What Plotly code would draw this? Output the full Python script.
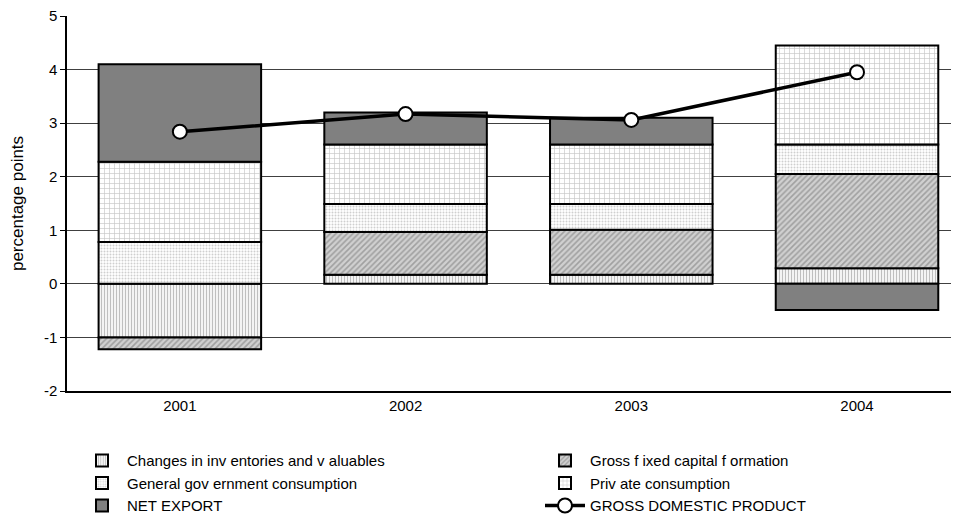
import plotly.graph_objects as go

years = ["2001", "2002", "2003", "2004"]
inventories = [-1.00, 0.17, 0.17, 0.29]
gfcf = [-0.22, 0.80, 0.84, 1.76]
gov = [0.78, 0.52, 0.48, 0.55]
private = [1.50, 1.11, 1.11, 1.85]
net_export = [1.82, 0.60, 0.50, -0.49]
gdp = [2.84, 3.17, 3.06, 3.95]
y_ticks = [-2, -1, 0, 1, 2, 3, 4, 5]
y_tick_labels = ["-2", "-1", "0", "1", "2", "3", "4", "5"]

names = ["Changes in inv entories and v aluables", "Gross f ixed capital f ormation",
         "General gov ernment consumption", "Priv ate consumption", "NET EXPORT",
         "GROSS DOMESTIC PRODUCT"]

FONT = "Liberation Sans, Arial, sans-serif"

fig = go.Figure()
line = dict(color="black", width=2)
fig.add_trace(go.Bar(x=years, y=inventories, name=names[0], legend="legend",
    marker=dict(color="white", line=line,
                pattern=dict(shape="|", fgcolor="#808080", bgcolor="white", size=3, solidity=0.45))))
fig.add_trace(go.Bar(x=years, y=gfcf, name=names[1], legend="legend2",
    marker=dict(color="#c8c8c8", line=line,
                pattern=dict(shape="/", fgcolor="#707070", bgcolor="#d0d0d0", size=4, solidity=0.4))))
fig.add_trace(go.Bar(x=years, y=gov, name=names[2], legend="legend",
    marker=dict(color="white", line=line,
                pattern=dict(shape=".", fgcolor="#a0a0a0", bgcolor="white", size=3, solidity=0.35))))
fig.add_trace(go.Bar(x=years, y=private, name=names[3], legend="legend2",
    marker=dict(color="white", line=line,
                pattern=dict(shape="+", fgcolor="#909090", bgcolor="white", size=5, solidity=0.25))))
fig.add_trace(go.Bar(x=years, y=net_export, name=names[4], legend="legend",
    marker=dict(color="#808080", line=line)))
fig.add_trace(go.Scatter(x=years, y=gdp, name=names[5], mode="lines+markers", legend="legend2",
    line=dict(color="black", width=3.5),
    marker=dict(symbol="circle", size=14, color="white", line=dict(color="black", width=2))))

leg_common = dict(orientation="v", yanchor="top", xanchor="left", traceorder="normal",
                  font=dict(family=FONT, size=15, color="black"), itemwidth=40,
                  tracegroupgap=0, bgcolor="rgba(0,0,0,0)")
fig.update_layout(
    width=951, height=511,
    margin=dict(l=59, r=2, t=8, b=128, autoexpand=False),
    barmode="relative", bargap=0.28,
    paper_bgcolor="white", plot_bgcolor="white",
    font=dict(family=FONT, size=15, color="black"),
    showlegend=True,
    legend=dict(x=(77 - 67) / 890, y=-0.142, **leg_common),
    legend2=dict(x=(540 - 67) / 890, y=-0.142, **leg_common),
)
fig.update_yaxes(range=[-2, 5], tickvals=y_ticks, ticktext=y_tick_labels,
                 ticklabeloverflow="allow",
                 showgrid=True, gridcolor="#404040", gridwidth=1,
                 showline=True, linecolor="black", linewidth=1.5, ticks="outside", ticklen=5,
                 tickcolor="black", zeroline=False,
                 title=dict(text="percentage points", font=dict(size=17), standoff=18))
fig.update_xaxes(range=[-0.5, 3.443], showline=True, linecolor="black", linewidth=1.5,
                 ticks="", showgrid=False)

fig.write_html("out.html")
